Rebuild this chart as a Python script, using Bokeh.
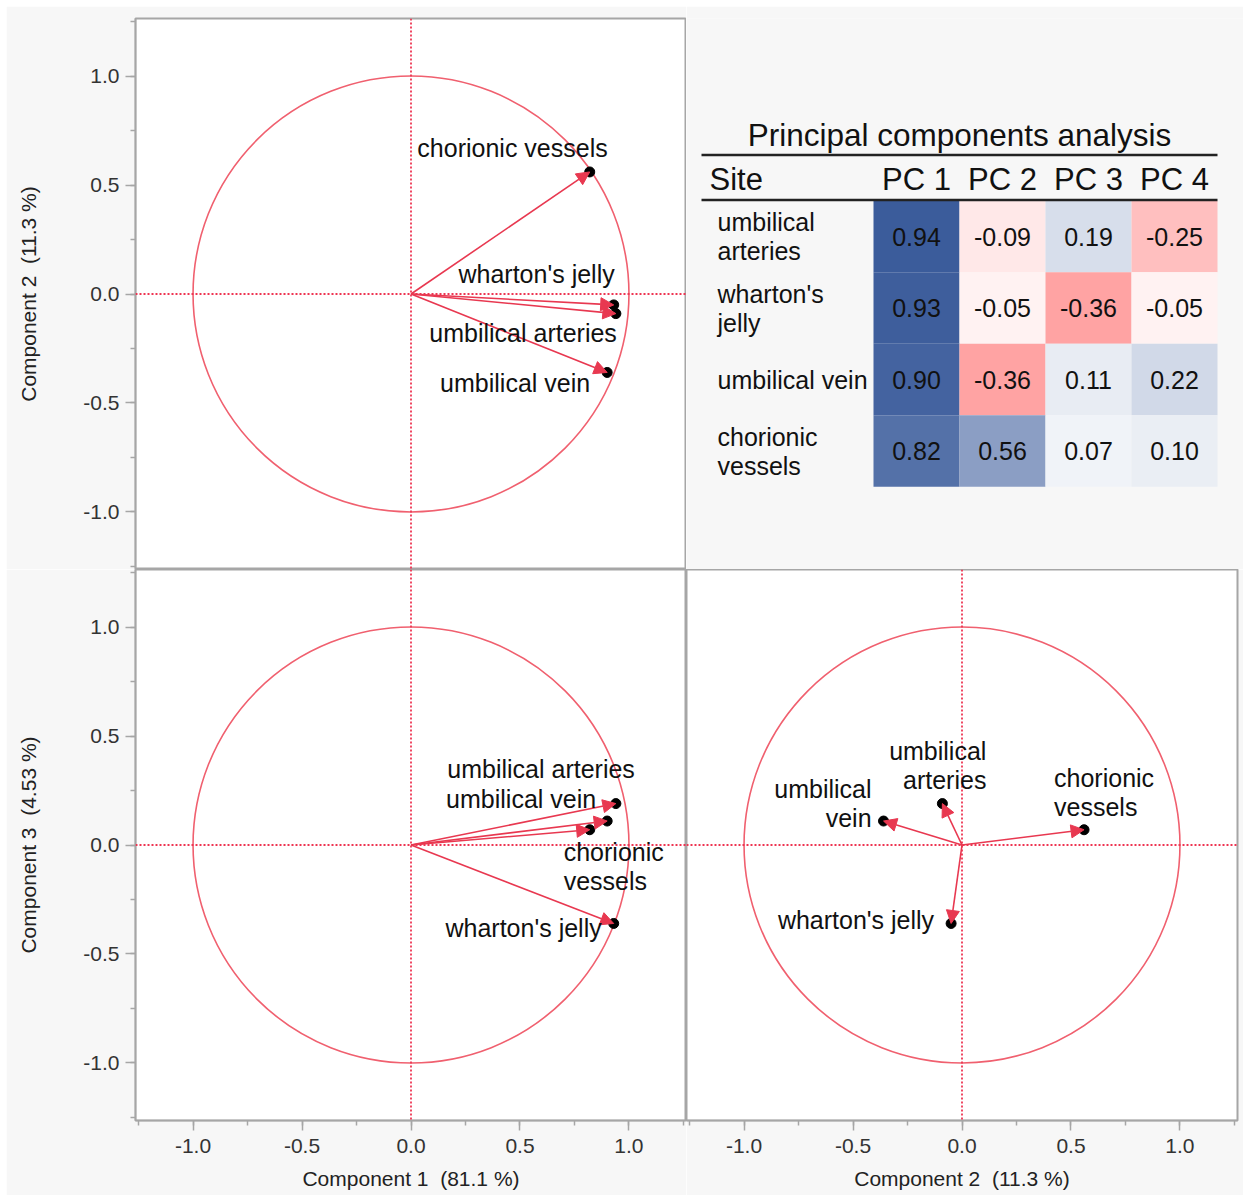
from bokeh.plotting import figure
from bokeh.models import (ColumnDataSource, Range1d, Span, Arrow, NormalHead, LabelSet,
                          SingleIntervalTicker, PrintfTickFormatter, LinearColorMapper)
from bokeh.layouts import row, column
from bokeh.embed import file_html
from bokeh.resources import INLINE
from bokeh.core.properties import value, field
from bokeh.transform import transform

# ---- loadings of the four sites on the principal components ----
sites = ["umbilical arteries", "wharton's jelly", "umbilical vein", "chorionic vessels"]
site_rows = ["umbilical\narteries", "wharton's\njelly", "umbilical vein", "chorionic\nvessels"]
pc1 = [0.94, 0.93, 0.90, 0.82]
pc2 = [-0.09, -0.05, -0.36, 0.56]
pc3 = [0.19, -0.36, 0.11, 0.07]
pc4 = [-0.25, -0.05, 0.22, 0.10]
pc_headers = ["PC 1", "PC 2", "PC 3", "PC 4"]
axis_titles = ["Component 1 \u00a0(81.1 %)", "Component 2 \u00a0(11.3 %)", "Component 3 \u00a0(4.53 %)"]
table_title = "Principal components analysis"

# per-panel label text, anchor and pixel offset (dx right, dy up) from each point
labels_12 = dict(text=sites, align=["right", "right", "right", "right"],
                 dx=[1, 1, -17, 18], dy=[-19, 31, -11, 24])
labels_13 = dict(text=["umbilical arteries", "wharton's jelly", "umbilical vein", "chorionic\nvessels"],
                 align=["right", "right", "right", "left"],
                 dx=[19, -12, -11, -26], dy=[35, -5, 22, -37])
labels_23 = dict(text=["umbilical\narteries", "wharton's jelly", "umbilical\nvein", "chorionic\nvessels"],
                 align=["right", "right", "right", "left"],
                 dx=[44, -17, -12, -30], dy=[38, 3, 18, 37])

BG = "#f7f7f7"
FRAME = "#a6a6a6"
CIRCLE = "#f0606f"
ARROW = "#e83850"
CROSS = "#ee3552"
FONT = "Liberation Sans"
LIM = 1.264
LINE_PX = 29          # spacing of wrapped label lines


def style_axis(ax, title):
    ax.axis_label = title
    ax.axis_label_text_font = FONT
    ax.axis_label_text_font_size = "21px"
    ax.axis_label_text_font_style = "normal"
    ax.axis_label_text_color = "#222222"
    ax.major_label_text_font = FONT
    ax.major_label_text_font_size = "21px"
    ax.major_label_text_color = "#333333"
    ax.axis_line_color = FRAME
    ax.axis_line_width = 1.5
    ax.major_tick_line_color = FRAME
    ax.minor_tick_line_color = FRAME
    ax.major_tick_line_width = 1.5
    ax.minor_tick_line_width = 1.5
    ax.major_tick_in = 0
    ax.major_tick_out = 10
    ax.minor_tick_in = 0
    ax.minor_tick_out = 5
    ax.ticker = SingleIntervalTicker(interval=0.5, num_minor_ticks=2)
    ax.formatter = PrintfTickFormatter(format="%.1f")


def split_labels(xs, ys, labels):
    """One entry per text line, so every line keeps its own alignment."""
    out = dict(x=[], y=[], text=[], align=[], dx=[], dy=[])
    for x, y, t, a, dx, dy in zip(xs, ys, labels["text"], labels["align"],
                                  labels["dx"], labels["dy"]):
        lines = t.split("\n")
        n = len(lines)
        for i, ln in enumerate(lines):
            out["x"].append(x)
            out["y"].append(y)
            out["text"].append(ln)
            out["align"].append(a)
            out["dx"].append(dx)
            out["dy"].append(dy + ((n - 1) / 2 - i) * LINE_PX)
    return out


def biplot(xs, ys, labels, xtitle, ytitle, borders):
    left, right, top, bottom = borders
    p = figure(frame_width=551, frame_height=551,
               x_range=Range1d(-LIM, LIM), y_range=Range1d(-LIM, LIM),
               x_axis_location="below" if xtitle else None,
               y_axis_location="left" if ytitle else None,
               min_border_left=left, min_border_right=right,
               min_border_top=top, min_border_bottom=bottom,
               toolbar_location=None, output_backend="svg")
    p.background_fill_color = "white"
    p.border_fill_color = BG
    p.outline_line_color = FRAME
    p.outline_line_width = 2
    p.grid.visible = False
    if xtitle:
        style_axis(p.xaxis[0], xtitle)
        p.xaxis[0].major_label_standoff = 8
        p.xaxis[0].axis_label_standoff = 11
    if ytitle:
        style_axis(p.yaxis[0], ytitle)
        p.yaxis[0].major_label_standoff = 6
        p.yaxis[0].axis_label_standoff = 40

    # unit correlation circle
    p.circle(x=[0], y=[0], radius=1, fill_color=None, line_color=CIRCLE, line_width=1.6)

    p.add_layout(Span(location=0, dimension="width", line_color=CROSS,
                      line_dash="2 2", line_width=1.8))
    p.add_layout(Span(location=0, dimension="height", line_color=CROSS,
                      line_dash="2 2", line_width=1.8))

    src = ColumnDataSource(dict(x0=[0.0] * len(xs), y0=[0.0] * len(ys), x=xs, y=ys))
    p.scatter("x", "y", source=src, size=10, fill_color="black", line_color="black")
    p.add_layout(Arrow(x_start="x0", y_start="y0", x_end="x", y_end="y", source=src,
                       line_color=ARROW, line_width=1.6,
                       end=NormalHead(size=13, fill_color=ARROW, line_color=ARROW, line_width=1)))
    lab = ColumnDataSource(split_labels(xs, ys, labels))
    p.add_layout(LabelSet(x="x", y="y", text="text", source=lab,
                          x_offset="dx", y_offset="dy",
                          text_align=field("align"), text_baseline="middle",
                          text_font=value(FONT), text_font_size="25px",
                          text_color="#111111"))
    return p


p12 = biplot(pc1, pc2, labels_12, None, axis_titles[1], (129, 0, 12, 0))
p13 = biplot(pc1, pc3, labels_13, axis_titles[0], axis_titles[2], (129, 0, 0, 75))
p23 = biplot(pc2, pc3, labels_23, axis_titles[1], None, (0, 6, 0, 75))

# ---- loadings table ----
CW, RH = 86.0, 71.5            # cell width / row height in pixels
OX, OY = 230.0, 218.0          # pixel position of the first cell centre inside the frame
TW, TH = 557, 551
tbl = figure(frame_width=TW, frame_height=TH,
             x_range=Range1d(-OX / CW, (TW - OX) / CW),
             y_range=Range1d((TH - OY) / RH, -OY / RH),
             x_axis_location=None, y_axis_location=None,
             min_border_left=0, min_border_right=0, min_border_top=12, min_border_bottom=0,
             toolbar_location=None, output_backend="svg")
tbl.background_fill_color = BG
tbl.border_fill_color = BG
tbl.outline_line_color = None
tbl.grid.visible = False

palette = []
blue_end = (47, 82, 149)
red_end = (255, 0, 0)
n = 100
for i in range(-n, n + 1):
    t = i / n
    end = blue_end if t > 0 else red_end
    a = abs(t)
    r, g, b = (round(255 + (e - 255) * a) for e in end)
    palette.append("#%02x%02x%02x" % (r, g, b))
mapper = LinearColorMapper(palette=palette, low=-1, high=1)

cols = [pc1, pc2, pc3, pc4]
cx, cy, cv, ct = [], [], [], []
for r in range(len(sites)):
    for c, vals in enumerate(cols):
        cx.append(c)
        cy.append(r)
        cv.append(vals[r])
        ct.append("%.2f" % vals[r])
cells = ColumnDataSource(dict(x=cx, y=cy, v=cv, t=ct))
tbl.rect("x", "y", width=1, height=1, source=cells,
         fill_color=transform("v", mapper), line_color=None)
tbl.text("x", "y", text="t", source=cells, text_align="center", text_baseline="middle",
         text_font=value(FONT), text_font_size="25px", text_color="#111111")

# site names, wrapped lines stacked around the row centre
rx, ry, rt = [], [], []
for r, name in enumerate(site_rows):
    lines = name.split("\n")
    k = len(lines)
    for i, ln in enumerate(lines):
        rx.append(-2.314)
        ry.append(r + (i - (k - 1) / 2) * LINE_PX / RH)
        rt.append(ln)
tbl.text("x", "y", text="t", source=ColumnDataSource(dict(x=rx, y=ry, t=rt)),
         text_align="left", text_baseline="middle",
         text_font=value(FONT), text_font_size="25px", text_color="#111111")

hdr = ColumnDataSource(dict(x=list(range(len(pc_headers))), y=[-0.804] * len(pc_headers),
                            t=pc_headers))
tbl.text("x", "y", text="t", source=hdr, text_align="center", text_baseline="middle",
         text_font=value(FONT), text_font_size="31px", text_color="#111111")
tbl.text(x=[-2.407], y=[-0.804], text=["Site"], text_align="left", text_baseline="middle",
         text_font=value(FONT), text_font_size="31px", text_color="#111111")
tbl.text(x=[0.5], y=[-1.4126], text=[table_title], text_align="center", text_baseline="middle",
         text_font=value(FONT), text_font_size="31.5px", text_color="#111111")
tbl.segment(x0=[-2.5, -2.5], y0=[-1.14, -0.51], x1=[3.5, 3.5], y1=[-1.14, -0.51],
            line_color="#222222", line_width=2.5)

layout = column(row(p12, tbl), row(p13, p23), margin=(6, 0, 0, 6))

with open("out.html", "w") as f:
    f.write(file_html(layout, INLINE, "PCA loadings"))
